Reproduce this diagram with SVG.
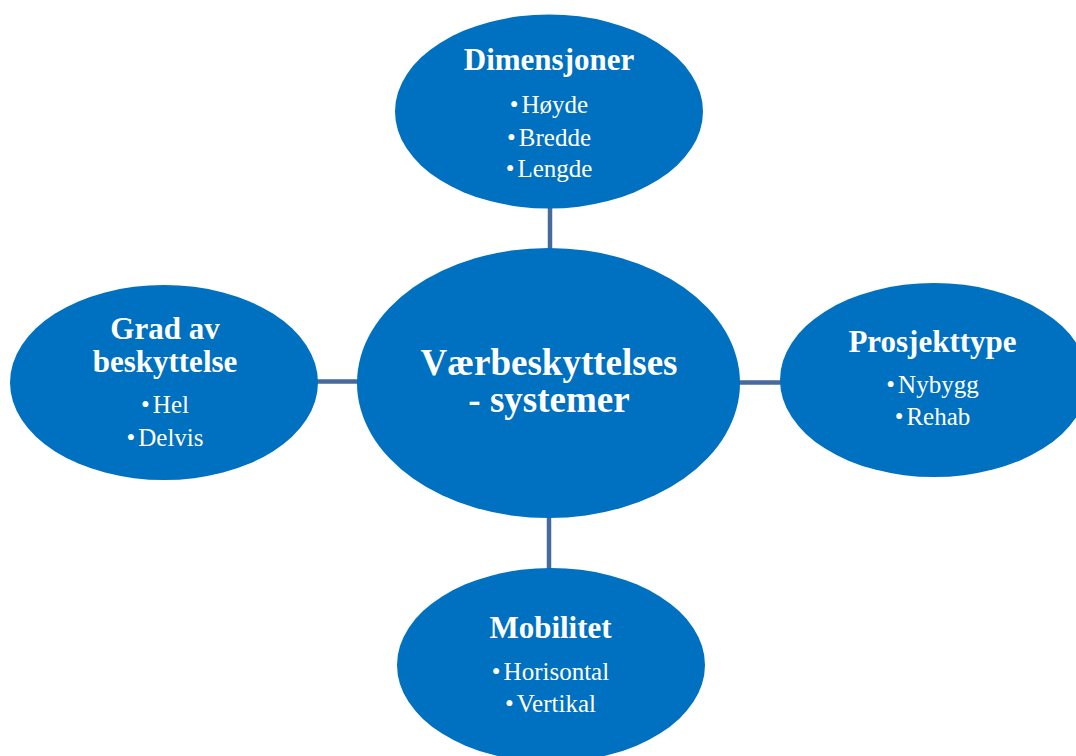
<svg xmlns="http://www.w3.org/2000/svg" width="1076" height="756" viewBox="0 0 1076 756">
<style>
.node{fill:#0070c0;}
.conn{stroke:#466a9c;stroke-width:4.5;fill:none;}
text{font-family:"Liberation Serif","Times New Roman",serif;fill:#ffffff;text-anchor:middle;}
.t{font-weight:bold;font-size:31px;}
.c{font-weight:bold;font-size:37px;}
.b{font-size:25px;}
</style>
<rect width="1076" height="756" fill="#ffffff"/>
<g id="connectors">
<line class="conn" x1="550" y1="205" x2="550" y2="252"/>
<line class="conn" x1="549" y1="514" x2="549" y2="572"/>
<line class="conn" x1="314" y1="381.5" x2="362" y2="381.5"/>
<line class="conn" x1="736" y1="382.5" x2="785" y2="382.5"/>
</g>
<g id="center">
<ellipse class="node" cx="548.5" cy="383" rx="191.5" ry="135"/>
<text class="c" x="549" y="375">Værbeskyttelses</text>
<text class="c" x="549" y="412">- systemer</text>
</g>
<g id="dimensjoner">
<ellipse class="node" cx="549" cy="111.5" rx="154" ry="97"/>
<text class="t" x="549" y="70">Dimensjoner</text>
<text class="b" x="549" y="113">•<tspan dx="3">Høyde</tspan></text>
<text class="b" x="549" y="146">•<tspan dx="3">Bredde</tspan></text>
<text class="b" x="549" y="177">•<tspan dx="3">Lengde</tspan></text>
</g>
<g id="grad">
<ellipse class="node" cx="164" cy="382.5" rx="154" ry="97.5"/>
<text class="t" x="165" y="339">Grad av</text>
<text class="t" x="165" y="372">beskyttelse</text>
<text class="b" x="165" y="413">•<tspan dx="3">Hel</tspan></text>
<text class="b" x="165" y="446">•<tspan dx="3">Delvis</tspan></text>
</g>
<g id="prosjekttype">
<ellipse class="node" cx="934" cy="380" rx="154" ry="97"/>
<text class="t" x="932.5" y="352">Prosjekttype</text>
<text class="b" x="932.5" y="393">•<tspan dx="3">Nybygg</tspan></text>
<text class="b" x="932.5" y="425">•<tspan dx="3">Rehab</tspan></text>
</g>
<g id="mobilitet">
<ellipse class="node" cx="551" cy="665" rx="154" ry="97"/>
<text class="t" x="550.5" y="638">Mobilitet</text>
<text class="b" x="550.5" y="680">•<tspan dx="3">Horisontal</tspan></text>
<text class="b" x="550.5" y="712">•<tspan dx="3">Vertikal</tspan></text>
</g>
</svg>
